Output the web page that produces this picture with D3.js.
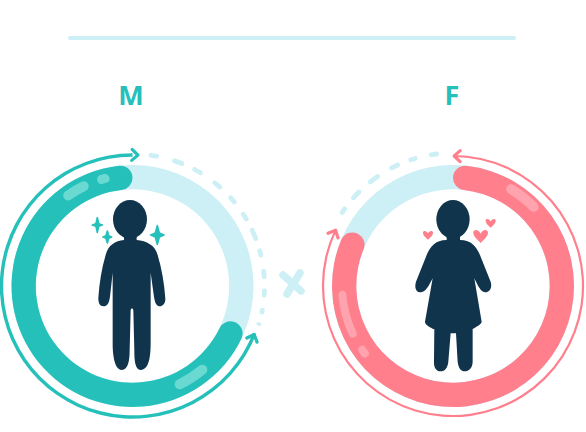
<!DOCTYPE html>
<html><head><meta charset="utf-8">
<script src="https://cdn.jsdelivr.net/npm/d3@7"></script>
<style>html,body{margin:0;padding:0;background:#fff}svg{display:block}text{font-family:"Open Sans",sans-serif}</style>
</head><body><svg id="c" width="586" height="432"></svg>
<script>
const categories = ["M", "F"];
const shareValues = [69.6, 83];            // filled share of each ring, percent
const ringStartPct = [30.4, 0];            // where the filled arc begins
const outerArrowPct = [[30.9, 100], [0, 82]];
const dashesM = [[7,11.5],[17.5,23],[27,32],[37.5,42.5],[47,51.5],[56,60.5],[64,70],[73.5,77.5],[82.5,87],[91,95],[99.5,102.5],[106,107.5]];
const dashesF = [[349.5,354],[340.5,344.5],[331.5,336.5],[320.5,326.5],[310.5,316],[302.5,306.5]];
const glossM = [[322,336.5,111,10],[341.5,348,111,9],[137.5,157,109,10]];
const glossF = [[28.5,48,113,10],[242.5,267.5,111,8],[230.5,237,111,8]];

const TEAL="#25c0ba", PINK="#ff7f8d", PALE="#cdeff6", NAVY="#11344d", TEALG="#6ad9d2", PINKG="#ffa3af";
const svg=d3.select("#c");
const angle=d3.scaleLinear().domain([0,100]).range([0,2*Math.PI]);
const deg=d3.scaleLinear().domain([0,360]).range([0,2*Math.PI]);
const colorScale=d3.scaleOrdinal().domain(categories).range([TEAL,PINK]);
const glossScale=d3.scaleOrdinal().domain(categories).range([TEALG,PINKG]);
const cx=d3.scaleOrdinal().domain(categories).range([132.5,453]);
const cy=286;
const labelColor=TEAL;

svg.append("line").attr("x1",70).attr("x2",514).attr("y1",38).attr("y2",38)
  .attr("stroke",PALE).attr("stroke-width",4).attr("stroke-linecap","round");

svg.selectAll("text.lab").data(categories).join("text").attr("class","lab")
  .attr("x",(d,i)=>i?452:131).attr("y",105).attr("text-anchor","middle")
  .attr("font-size",27).attr("font-weight",700).attr("fill",labelColor).text(d=>d);

// × between the rings
svg.append("path").attr("d","M283,275L301,291M300,273L287,294")
  .attr("stroke",PALE).attr("stroke-width",7.5).attr("stroke-linecap","round").attr("fill","none");

const roundArc=(a0,a1,r,w)=>d3.arc().innerRadius(r-w/2).outerRadius(r+w/2)
  .startAngle(a0).endAngle(a1).cornerRadius(w/2)();

const dashSets=[dashesM,dashesF], glossSets=[glossM,glossF];
const arrowR=[131,130], arrowW=[3.4,2.2], dashR=[132,133];

categories.forEach((c,i)=>{
  const g=svg.append("g").attr("transform",`translate(${cx(c)},${cy})`);
  g.append("path").attr("d",d3.arc().innerRadius(96.7).outerRadius(121).startAngle(0).endAngle(2*Math.PI)()).attr("fill",PALE);
  g.append("path").attr("d",roundArc(angle(ringStartPct[i]),angle(ringStartPct[i]+shareValues[i]),108.85,24.3)).attr("fill",colorScale(c));
  g.selectAll("path.gloss").data(glossSets[i]).join("path").attr("class","gloss")
    .attr("d",d=>roundArc(deg(d[0]),deg(d[1]),d[2],d[3])).attr("fill",glossScale(c));
  g.selectAll("path.dash").data(dashSets[i]).join("path").attr("class","dash")
    .attr("d",d=>roundArc(deg(d[0]),deg(d[1]),dashR[i],4.8)).attr("fill",PALE);
  const [p0,p1]=outerArrowPct[i];
  const r=arrowR[i];
  g.append("path").attr("d",d3.arc().innerRadius(r-arrowW[i]/2).outerRadius(r+arrowW[i]/2).startAngle(angle(p0)).endAngle(angle(p1))())
    .attr("fill",colorScale(c));
  // arrow heads, each pointing along the ring
  const head=(p,dir)=>{
    const a=angle(p), rot=a*180/Math.PI;
    g.append("path").attr("transform",`rotate(${rot}) translate(0,${-r}) rotate(${dir>0?0:180})`)
      .attr("d","M-5.5,-5.5L0.5,0L-5.5,5.5").attr("fill","none").attr("stroke",colorScale(c))
      .attr("stroke-width",3.2).attr("stroke-linecap","round").attr("stroke-linejoin","round");
  };
  head(p0+0.2,-1); head(p1+(i?0:0.6),1);
});

// Pictograms, traced in a 3x working space
const fig=svg.append("g").attr("transform","translate(0,140) scale(0.3333)");
fig.append("ellipse").attr("cx",390).attr("cy",238).attr("rx",51).attr("ry",58).attr("fill",NAVY);
fig.append("rect").attr("x",372).attr("y",280).attr("width",38).attr("height",30).attr("fill",NAVY);
fig.append("path").attr("fill",NAVY).attr("d","M372,300L410,300C440,303 465,315 473,345C485,385 493,430 496,475C497,492 487,499 480,499C470,499 465,490 462,470L452,398L452,610C452,650 447,690 422,690C405,690 403,660 403,630L400,510Q396,500 392,510L389,630C389,660 385,690 365,690C345,690 338,650 338,610L338,398L330,470C327,490 322,499 310,499C300,499 295,490 295,475C298,430 305,385 317,345C325,315 345,303 372,300Z");

const figF=svg.append("g").attr("transform","translate(290,140) scale(0.3333)");
figF.append("ellipse").attr("cx",489).attr("cy",238).attr("rx",50).attr("ry",58).attr("fill",NAVY);
figF.append("rect").attr("x",470).attr("y",280).attr("width",40).attr("height",30).attr("fill",NAVY);
figF.append("path").attr("fill",NAVY).attr("d","M470,300L510,300C545,300 560,320 572,350L602,425C608,445 597,458 585,457C572,455 565,440 553,415L575,545C575,552 560,560 548,567L548,665C548,685 535,694 525,694C510,694 505,680 503,665L498,580L482,580L475,665C473,683 465,694 452,694C437,694 431,680 432,665L433,568C420,562 405,555 405,545L428,415C415,440 408,455 393,457C380,458 372,445 378,425L408,350C420,320 435,300 470,300Z");

const sparkle=(x,y,a,b,w)=>`M${x-w},${y-w}L${x},${y-b}L${x+w},${y-w}L${x+a},${y}L${x+w},${y+w}L${x},${y+b}L${x-w},${y+w}L${x-a},${y}Z`;
[[292,255,15,22,4],[322,291,13,18,4],[472,285,20,28,6]].forEach(s=>{
  fig.append("path").attr("d",sparkle(s[0],s[1],s[2],s[3],s[4]))
    .attr("fill",TEAL).attr("stroke",TEAL).attr("stroke-width",5).attr("stroke-linejoin","round");
});
const heart=(x,y,s)=>`M${x},${y+s}C${x-s*0.4},${y+s*0.6} ${x-s*1.05},${y+s*0.1} ${x-s},${y-s*0.45}C${x-s*0.9},${y-s*0.95} ${x-s*0.2},${y-s*0.8} ${x},${y-s*0.25}C${x+s*0.2},${y-s*0.8} ${x+s*0.9},${y-s*0.95} ${x+s},${y-s*0.45}C${x+s*1.05},${y+s*0.1} ${x+s*0.4},${y+s*0.6} ${x},${y+s}Z`;
[[414,284,15],[572,287,22],[602,248,15]].forEach(h=>{
  figF.append("path").attr("d",heart(h[0],h[1],h[2])).attr("fill",PINK);
});
</script></body></html>
